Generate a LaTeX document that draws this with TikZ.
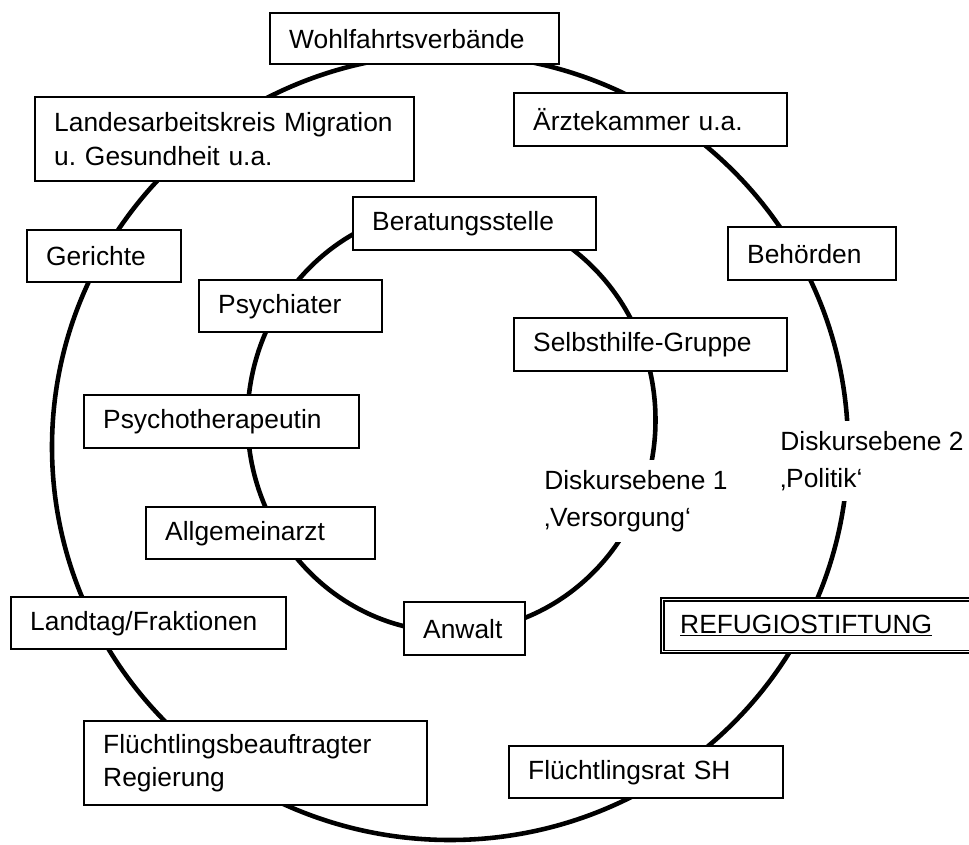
\documentclass[tikz,border=0pt]{standalone}
\usepackage{fontspec}
\setmainfont{Liberation Sans}
\begin{document}
\begin{tikzpicture}[
	box/.style={draw, fill=white, line width=1.4pt, anchor=north west, align=left, inner xsep=0.38cm, font=\fontsize{15}{19}\selectfont},
	ring/.style={line width=2.6pt},
	level/.style={fill=white, anchor=west, align=left, inner sep=0.2cm, font=\fontsize{15}{21}\selectfont}]
		\useasboundingbox (0,0) rectangle (19.38,16.88);
		% Diskursebenen
		\draw[ring] (9.00,7.94) ellipse (7.96 and 7.86);
		\draw[ring] (9.03,8.48) ellipse (4.08 and 4.24);
		\node[level] (ebene1) at (10.68,6.86) {Diskursebene 1\\‚Versorgung‘};
		\node[level] (ebene2) at (15.40,7.66) {Diskursebene 2\\‚Politik‘};
		% aussen
		\node[box, text width=5.02cm, minimum height=1.02cm] (wohl) at (5.38,16.64) {Wohlfahrtsverbände};
		\node[box, text width=6.82cm, minimum height=1.68cm] (lak) at (0.68,14.96) {Landesarbeitskreis Migration\\u.\ Gesundheit u.a.};
		\node[box, text width=4.70cm, minimum height=1.06cm] (aerzte) at (10.26,15.04) {Ärztekammer u.a.};
		\node[box, text width=2.32cm, minimum height=1.04cm] (gerichte) at (0.52,12.30) {Gerichte};
		\node[box, text width=2.60cm, minimum height=1.06cm] (behoerden) at (14.54,12.36) {Behörden};
		\node[box, text width=4.74cm, minimum height=1.04cm] (landtag) at (0.20,4.96) {Landtag/Fraktionen};
		\node[box, text width=5.64cm, minimum height=1.10cm] (refugio) at (13.20,4.94) {\underline{REFUGIOSTIFTUNG}};
		\draw[line width=0.6pt] ([xshift=0.08cm,yshift=-0.08cm]refugio.north west) rectangle ([xshift=-0.08cm,yshift=0.08cm]refugio.south east);
		\node[box, text width=6.10cm, minimum height=1.68cm] (beauftragter) at (1.66,2.48) {Flüchtlingsbeauftragter\\Regierung};
		\node[box, text width=4.72cm, minimum height=1.04cm] (rat) at (10.16,1.98) {Flüchtlingsrat SH};
		% innen
		\node[box, text width=4.10cm, minimum height=1.06cm] (beratung) at (7.04,12.96) {Beratungsstelle};
		\node[box, text width=2.90cm, minimum height=1.04cm] (psychiater) at (3.96,11.30) {Psychiater};
		\node[box, text width=4.70cm, minimum height=1.06cm] (selbsthilfe) at (10.26,10.54) {Selbsthilfe-Gruppe};
		\node[box, text width=4.74cm, minimum height=1.06cm] (therapeutin) at (1.66,9.00) {Psychotherapeutin};
		\node[box, text width=3.82cm, minimum height=1.04cm] (arzt) at (2.90,6.76) {Allgemeinarzt};
		\node[box, text width=1.66cm, minimum height=1.06cm] (anwalt) at (8.06,4.86) {Anwalt};
	\end{tikzpicture}
\end{document}
